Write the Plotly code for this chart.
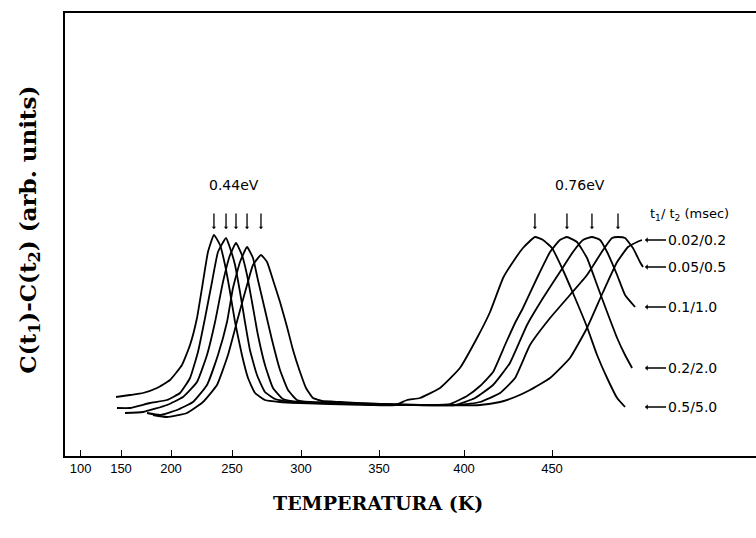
import numpy as np
import plotly.graph_objects as go

# ---- axis calibration of the original (non-uniform) temperature scale ----
TICK_T = [100, 150, 200, 250, 300, 350, 400, 450]
TICK_U = [80.7, 121, 171, 232, 301, 379, 464, 552]

# ---- data: temperature (K) and signal (arb. units) for each rate window ----
LABELS = ["0.5/5.0", "0.2/2.0", "0.1/1.0", "0.05/0.5", "0.02/0.2"]

T_0550 = [143.8, 159, 172, 186, 199, 209, 215.6, 221.3, 226.2, 230.3, 235.2, 240.2, 244.3, 248.4,
          252.2, 257.2, 261.6, 266.7, 273.9, 284.8, 299.3, 318.6, 344.2, 359.5, 366.5, 374.1,
          385.9, 397.6, 407.4, 414.8, 422.2, 427.8, 433.5, 440.3, 444.9, 450, 455.7, 461.9,
          469.9, 475.6, 481.3, 487, 491.5]
S_0550 = [0.59, 0.61, 0.63, 0.68, 0.76, 0.91, 1.11, 1.38, 1.74, 2.04, 2.21, 2.11, 1.91, 1.64,
          1.34, 1.01, 0.78, 0.63, 0.56, 0.54, 0.53, 0.52, 0.51, 0.51, 0.56, 0.58,
          0.68, 0.88, 1.18, 1.44, 1.78, 1.94, 2.08, 2.19, 2.16, 2.08, 1.88, 1.63,
          1.29, 1.01, 0.78, 0.58, 0.49]

T_0220 = [145, 159, 179, 196, 207.4, 215.6, 222.1, 227.9, 233.6, 238.5, 245.1, 248.4, 252.2,
          255.8, 259.4, 263, 268.1, 273.9, 281.2, 292, 312.2, 337.8, 362.4, 380, 391.8, 401.7,
          409.1, 416.5, 423.3, 429, 433.5, 441.5, 448.9, 454.5, 458.5, 464.2, 469.9, 475.6,
          481.3, 487, 491.5, 495.5]
S_0220 = [0.48, 0.48, 0.53, 0.56, 0.63, 0.78, 1.04, 1.38, 1.74, 2.04, 2.18, 2.08, 1.91,
          1.64, 1.34, 1.06, 0.81, 0.64, 0.57, 0.54, 0.53, 0.52, 0.51, 0.51, 0.52, 0.60,
          0.70, 0.84, 1.11, 1.33, 1.48, 1.78, 2.04, 2.16, 2.19, 2.14, 1.98, 1.71,
          1.44, 1.18, 1.01, 0.88]

T_0110 = [154, 172, 196, 209.8, 221.3, 229.5, 236.1, 242.6, 248.4, 252.9, 257.2, 260.9, 264.5,
          268.8, 273.9, 279.7, 287, 299.3, 318.6, 344.2, 368.2, 394.7, 406.3, 416.5, 426.1,
          435.8, 444.9, 454.5, 461.9, 467.6, 472.7, 477.3, 481.3, 487, 491.5, 497.2]
S_0110 = [0.43, 0.44, 0.51, 0.59, 0.74, 1.01, 1.34, 1.74, 2.01, 2.13, 2.01, 1.81, 1.54,
          1.21, 0.91, 0.68, 0.57, 0.54, 0.53, 0.52, 0.51, 0.51, 0.58, 0.71, 0.93,
          1.31, 1.58, 1.84, 2.04, 2.16, 2.19, 2.16, 2.04, 1.81, 1.61, 1.49]

T_00505 = [176, 189, 204.9, 218, 229.5, 238.5, 245.9, 250.7, 255.8, 260.9, 265.2, 268.8, 273.9,
           279, 284.8, 290.6, 297.1, 305.8, 325, 350.6, 374.1, 397.6, 409.1, 420.5, 429,
           437.5, 448.9, 460.2, 469.9, 479, 484.1, 487.5, 491.5, 496, 500, 501.7]
S_00505 = [0.43, 0.41, 0.46, 0.54, 0.71, 1.01, 1.34, 1.68, 1.94, 2.09, 1.98, 1.76, 1.46,
           1.16, 0.86, 0.66, 0.56, 0.54, 0.53, 0.52, 0.51, 0.51, 0.54, 0.63, 0.78,
           1.11, 1.38, 1.61, 1.81, 2.06, 2.18, 2.19, 2.18, 2.08, 1.94, 1.89]

T_00202 = [182, 196, 213.1, 226.2, 237.7, 246.7, 254.3, 260.9, 265.2, 271, 275.4, 279.7, 284.8,
           289.9, 294.2, 299.3, 303.2, 307.7, 313.5, 325, 350.6, 374.1, 409.1, 420.5,
           429, 437.5, 448.9, 460.2, 469.9, 479, 487, 493.2, 498.3, 501.1]
S_00202 = [0.41, 0.39, 0.43, 0.54, 0.71, 1.01, 1.38, 1.71, 1.91, 2.01, 1.94, 1.76, 1.54,
           1.29, 1.06, 0.84, 0.68, 0.58, 0.55, 0.54, 0.52, 0.51, 0.51, 0.54,
           0.59, 0.66, 0.78, 0.98, 1.28, 1.64, 1.94, 2.09, 2.14, 2.16]

TEMPS = [T_0550, T_0220, T_0110, T_00505, T_00202]
SIGNALS = [S_0550, S_0220, S_0110, S_00505, S_00202]

PEAK_LABELS = ["0.44eV", "0.76eV"]
X_TICK_TEXT = ["100", "150", "200", "250", "300", "350", "400", "450"]


def warp(t):
    t = np.asarray(t, dtype=float)
    u = np.interp(t, TICK_T, TICK_U)
    s_hi = (TICK_U[-1] - TICK_U[-2]) / (TICK_T[-1] - TICK_T[-2])
    s_lo = (TICK_U[1] - TICK_U[0]) / (TICK_T[1] - TICK_T[0])
    hi = t > TICK_T[-1]
    lo = t < TICK_T[0]
    u[hi] = TICK_U[-1] + (t[hi] - TICK_T[-1]) * s_hi
    u[lo] = TICK_U[0] + (t[lo] - TICK_T[0]) * s_lo
    return u


fig = go.Figure()
for lab, t, s in zip(LABELS, TEMPS, SIGNALS):
    fig.add_trace(go.Scatter(x=warp(t), y=s, mode="lines", name=lab,
                             line=dict(color="black", width=1.8, shape="spline", smoothing=0.4),
                             showlegend=False, hoverinfo="skip"))

ann = []
# peak arrows above each maximum
def peak_arrow(xu):
    return dict(x=xu, y=2.27, xref="x", yref="y", text="", showarrow=True,
                ax=0, ay=-17, arrowhead=1, arrowsize=0.55, arrowwidth=1.3,
                arrowcolor="black")

for i, (t, s) in enumerate(zip(TEMPS, SIGNALS)):
    t = np.array(t); s = np.array(s)
    m = t < 320
    tl = t[m][np.argmax(s[m])]
    ann.append(peak_arrow(float(warp([tl])[0])))
    if i < 4:
        tr = t[~m][np.argmax(s[~m])]
        ann.append(peak_arrow(float(warp([tr])[0])))

# rate-window labels
for lab, s in zip(LABELS, SIGNALS):
    ann.append(dict(x=645, y=s[-1], xref="x", yref="y", text=lab,
                    showarrow=True, ax=21, ay=0, xanchor="left", arrowhead=1,
                    arrowsize=0.7, arrowwidth=1.3, arrowcolor="black",
                    font=dict(family="DejaVu Sans", size=14, color="black")))

ann.append(dict(x=648, y=2.42, xref="x", yref="y", xanchor="left", yanchor="middle",
                text="t<sub>1</sub>/ t<sub>2</sub> (msec)", showarrow=False,
                font=dict(family="DejaVu Sans", size=13, color="black")))
ann.append(dict(x=234, y=2.71, xref="x", yref="y", text=PEAK_LABELS[0], showarrow=False,
                font=dict(family="DejaVu Sans", size=14, color="black")))
ann.append(dict(x=580, y=2.71, xref="x", yref="y", text=PEAK_LABELS[1], showarrow=False,
                font=dict(family="DejaVu Sans", size=14, color="black")))

# axis titles
ann.append(dict(x=-0.078, y=0.51, xref="paper", yref="paper", textangle=-90,
                text="<b>C(t<sub>1</sub>)-C(t<sub>2</sub>) (arb. units)</b>", showarrow=False,
                font=dict(family="DejaVu Serif", size=23, color="black")))
ann.append(dict(x=378, y=-0.105, xref="x", yref="paper", yanchor="middle",
                text="<b>TEMPERATURA (K)</b>", showarrow=False,
                font=dict(family="DejaVu Serif", size=19, color="black")))

fig.update_layout(
    width=756, height=538,
    margin=dict(l=65, r=0, t=13, b=82),
    paper_bgcolor="white", plot_bgcolor="white",
    annotations=ann,
    xaxis=dict(range=[65, 756], tickvals=warp(TICK_T).tolist(), ticktext=X_TICK_TEXT,
               ticks="inside", ticklen=6, tickwidth=1.2, tickcolor="black",
               showline=True, linecolor="black", linewidth=1.6, mirror=True,
               showgrid=False, zeroline=False,
               tickfont=dict(family="Liberation Sans", size=13, color="black")),
    yaxis=dict(range=[0, 4.43], showticklabels=False, ticks="",
               showline=True, linecolor="black", linewidth=1.6, mirror=False,
               showgrid=False, zeroline=False),
)

fig.write_html("out.html")
